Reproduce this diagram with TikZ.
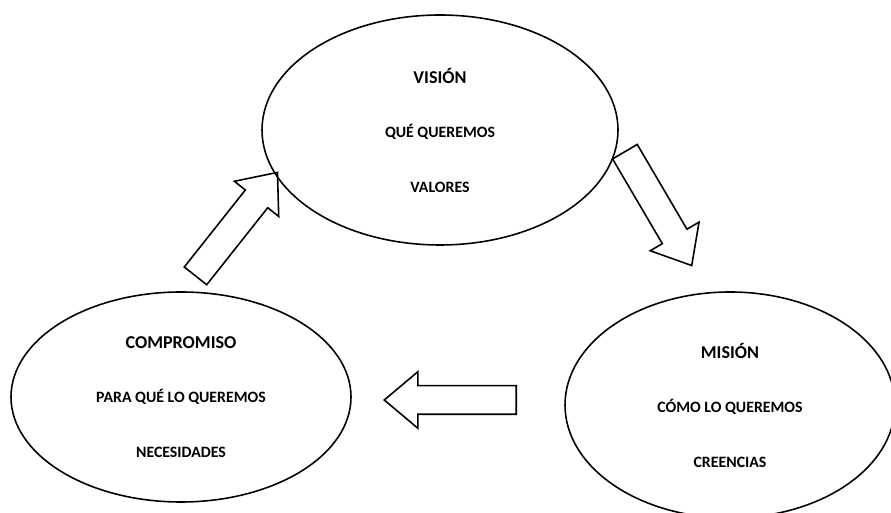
\documentclass[tikz,border=0pt]{standalone}
\usepackage{fontspec}
\setmainfont{Carlito}
\usetikzlibrary{shapes.geometric, shapes.arrows}
\newcommand{\stagename}[1]{{\fontsize{10.3}{12}\selectfont #1}}

\begin{document}
\begin{tikzpicture}[stage/.style={draw,shape=ellipse,line width=0.9pt,inner sep=0pt,align=center,font=\bfseries\fontsize{9}{11}\selectfont},
  blockarrow/.style={draw,shape=single arrow,line width=0.9pt,inner xsep=0pt,inner ysep=0.27cm,minimum width=1pt,minimum height=2.64cm,single arrow head extend=0.28cm,single arrow tip angle=80,anchor=tail}]
  \useasboundingbox (0,0) rectangle (17.82,10.26);
  \node[stage,minimum width=7.12cm,minimum height=4.6cm] (vision) at (8.8,7.66) {\stagename{VISIÓN}\\[20pt] QUÉ QUEREMOS\\[20pt] VALORES};
  \node[stage,minimum width=6.8cm,minimum height=4.2cm] (compromiso) at (3.62,2.32) {\stagename{COMPROMISO}\\[20pt] PARA QUÉ LO QUEREMOS\\[20pt] NECESIDADES};
  \node[stage,minimum width=6.6cm,minimum height=4.52cm] (mision) at (14.6,2.16) {\stagename{MISIÓN}\\[20pt] CÓMO LO QUEREMOS\\[20pt] CREENCIAS};
  \node[blockarrow,rotate=51.6] (tovision) at (3.9,4.73) {};
  \node[blockarrow,rotate=-59.6] (tomision) at (12.49,7.24) {};
  \node[blockarrow,rotate=180] (tocompromiso) at (10.34,2.26) {};
\end{tikzpicture}
\end{document}
